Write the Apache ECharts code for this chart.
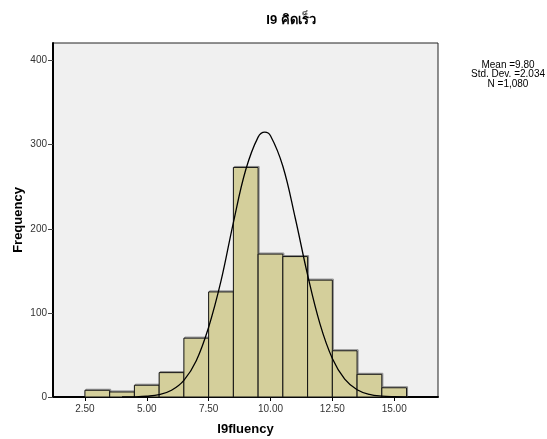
<!DOCTYPE html>
<html>
<head>
<meta charset="utf-8">
<script src="https://cdn.jsdelivr.net/npm/echarts@6/dist/echarts.min.js"></script>
<style>html,body{margin:0;padding:0;background:#fff}#c{width:547px;height:439px}</style>
</head>
<body>
<div id="c"></div>
<script>
// Histogram bins (centres, width 1) and frequencies
const binCenters = [3, 4, 5, 6, 7, 8, 9, 10, 11, 12, 13, 14, 15];
const frequencies = [8, 6, 14, 29, 70, 125, 273, 170, 167, 139, 55, 27, 11];
const binWidth = 1;
// Normal curve points
const curveX = [4.0, 4.5, 5.0, 5.5, 6.0, 6.5, 7.0, 7.5, 8.0, 8.5, 9.0, 9.5, 9.77, 10.0, 10.5, 11.0, 11.5, 12.0, 12.5, 13.0, 13.5, 14.0, 14.5, 15.0, 15.5];
const curveY = [0.05, 0.2, 0.9, 2.8, 8.0, 19.8, 43.2, 83.0, 138.0, 207.5, 270.2, 309.1, 315, 310.7, 274.4, 212.9, 145.2, 87.0, 45.8, 21.2, 8.6, 3.1, 1.0, 0.3, 0.1];
const xTicks = [2.5, 5.0, 7.5, 10.0, 12.5, 15.0];
const yTicks = [0, 100, 200, 300, 400];
const statsLines = ['Mean =9.80', 'Std. Dev. =2.034', 'N =1,080'];
const chartTitle = 'I9 คิดเร็ว';
const xName = 'I9fluency';
const yName = 'Frequency';

const chart = echarts.init(document.getElementById('c'), null, {renderer: 'canvas'});
const font = '"Liberation Sans", Arial, "Noto Sans", sans-serif';
const option = {
  animation: false,
  backgroundColor: '#ffffff',
  title: {
    text: chartTitle, left: 286, top: 9, textAlign: 'center',
    textStyle: {fontFamily: font, fontSize: 13, fontWeight: 'bold', color: '#000'}
  },
  graphic: [{
    type: 'text', x: 508, y: 60,
    style: {text: statsLines.join('\n'), fontFamily: font, fontSize: 10, lineHeight: 9.5, fill: '#000', align: 'center', verticalAlign: 'top'}
  }],
  grid: {left: 53, top: 43, width: 385, height: 354, containLabel: false, outerBoundsMode: 'none',
         show: true, backgroundColor: '#f0f0f0', borderColor: '#222', borderWidth: 1},
  xAxis: {
    type: 'value', min: 1.21, max: 16.77,
    name: xName, nameLocation: 'middle', nameGap: 26, nameMoveOverlap: false,
    nameTextStyle: {fontFamily: font, fontSize: 13, fontWeight: 'bold', color: '#000'},
    axisLine: {show: true, onZero: false, lineStyle: {color: '#000', width: 2}},
    axisTick: {show: true, customValues: xTicks, length: 4, lineStyle: {color: '#000'}},
    axisLabel: {customValues: xTicks, formatter: v => v.toFixed(2), fontFamily: font, fontSize: 10, color: '#333', margin: 7},
    splitLine: {show: false}
  },
  yAxis: {
    type: 'value', min: 0, max: 421,
    name: yName, nameLocation: 'middle', nameGap: 28, nameRotate: 90, nameMoveOverlap: false,
    nameTextStyle: {fontFamily: font, fontSize: 13, fontWeight: 'bold', color: '#000'},
    axisLine: {show: true, lineStyle: {color: '#000', width: 2}},
    axisTick: {show: true, customValues: yTicks, length: 5, lineStyle: {color: '#444'}},
    axisLabel: {customValues: yTicks, fontFamily: font, fontSize: 10, color: '#333', margin: 6},
    splitLine: {show: false}
  },
  series: [{
    type: 'custom',
    data: binCenters.map((c, i) => [c, frequencies[i]]),
    renderItem: function (params, api) {
      const c = api.value(0), f = api.value(1);
      const p0 = api.coord([c - binWidth / 2, f]);
      const p1 = api.coord([c + binWidth / 2, 0]);
      return {
        type: 'group',
        children: [
          {type: 'rect', shape: {x: p0[0] + 1, y: p0[1] - 1, width: p1[0] - p0[0], height: p1[1] - p0[1]},
           style: {fill: 'none', stroke: '#888', lineWidth: 1}},
          {type: 'rect', shape: {x: p0[0], y: p0[1], width: p1[0] - p0[0], height: p1[1] - p0[1]},
           style: {fill: '#d4cf9b', stroke: '#111', lineWidth: 1}}
        ]
      };
    },
    z: 2
  }, {
    type: 'line',
    data: curveX.map((x, i) => [x, curveY[i]]),
    smooth: 0.4, showSymbol: false, symbol: 'none',
    lineStyle: {color: '#000', width: 1.3},
    z: 3
  }]
};
chart.setOption(option);
</script>
</body>
</html>
